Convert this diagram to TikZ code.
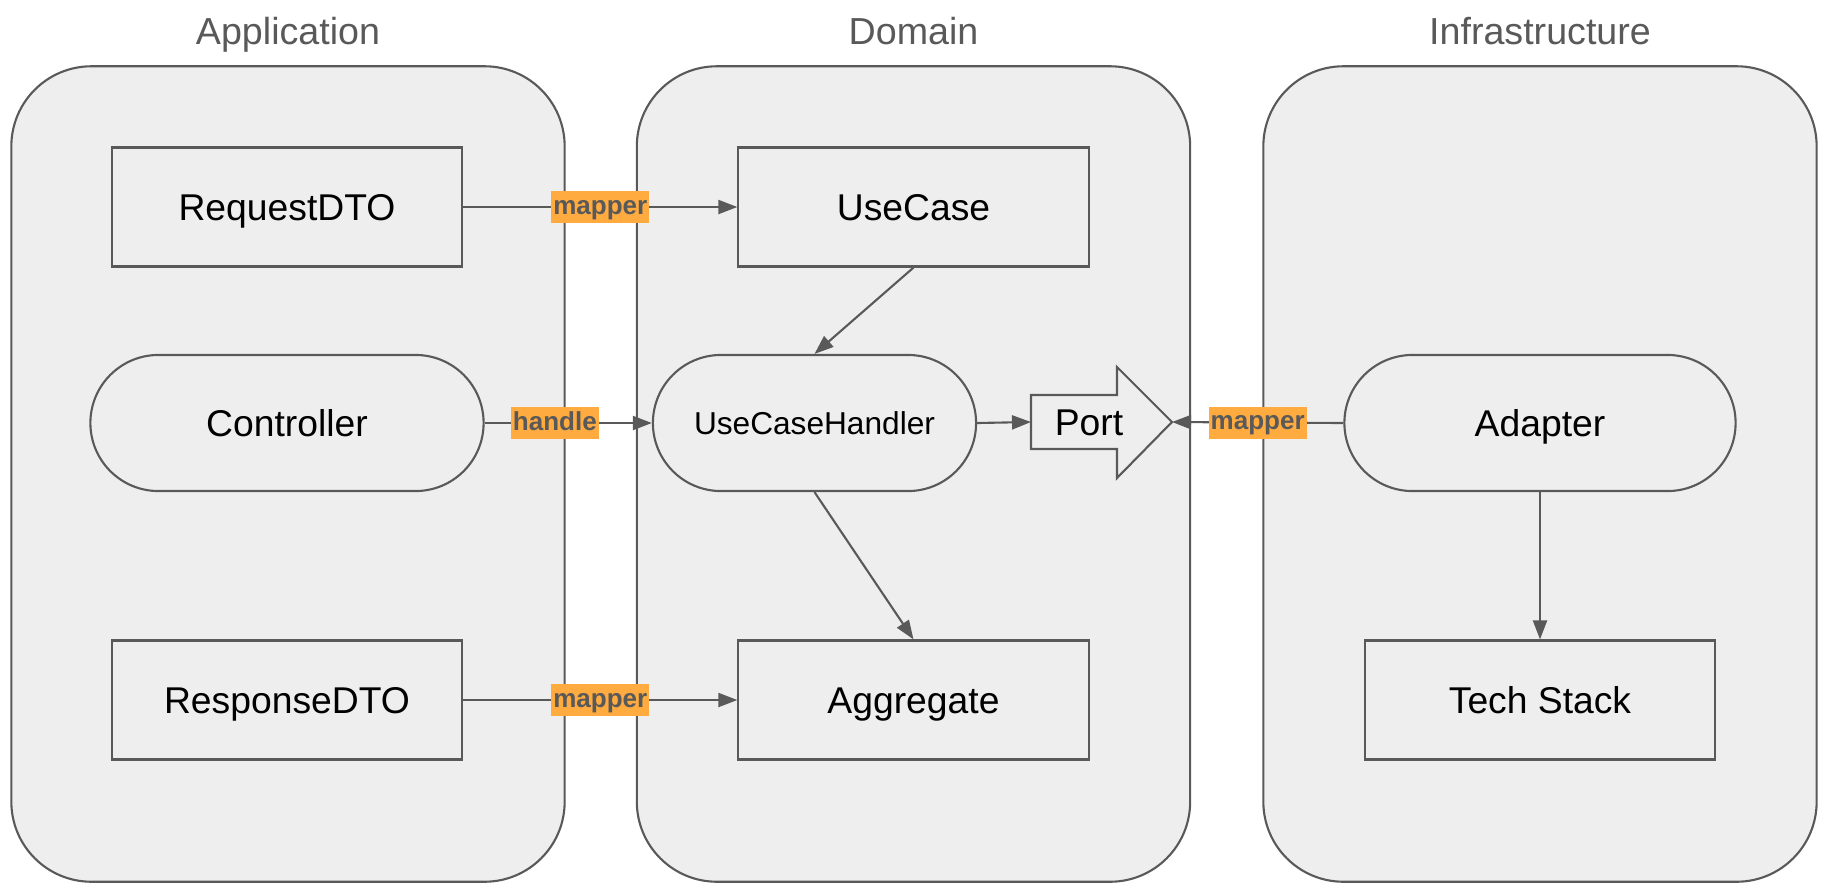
\documentclass[tikz,border=0pt]{standalone}
\usepackage{fontspec}
\setmainfont{Liberation Sans}
\usetikzlibrary{arrows.meta}
\definecolor{panelgray}{HTML}{EEEEEE}
\definecolor{linegray}{HTML}{595959}
\definecolor{tagorange}{HTML}{FFAB40}
\tikzset{panel/.style={draw=linegray,fill=panelgray,line width=0.6pt,rounded corners=0.8cm,minimum width=5.53cm,minimum height=8.15cm}}
\tikzset{layer/.style={text=linegray,font=\fontsize{10.7}{12}\selectfont,text height=0.27cm,text depth=0pt}}
\tikzset{box/.style={draw=linegray,line width=0.6pt,minimum width=3.5cm,minimum height=1.19cm,font=\fontsize{10.6}{12}\selectfont,text height=0.27cm,text depth=0pt}}
\tikzset{pill/.style={draw=linegray,line width=0.6pt,rounded corners=0.68cm,minimum width=3.93cm,minimum height=1.36cm,font=\fontsize{10.6}{12}\selectfont,text height=0.27cm,text depth=0pt}}
\tikzset{edge/.style={draw=linegray,line width=0.6pt,-{Triangle[length=1.9mm,width=1.4mm]}}}
\tikzset{tag/.style={fill=tagorange,text=linegray,font=\fontsize{7.4}{8}\selectfont\bfseries,inner xsep=0.2mm,inner ysep=0.3mm,text height=2mm,text depth=0.6mm}}

\begin{document}
\begin{tikzpicture}[x=0.01cm,y=-0.01cm]
    \useasboundingbox (0,0) rectangle (1826,890);
    \node[panel] (app) at (288,474) {};
    \node[panel] (dom) at (913.5,474) {};
    \node[panel] (infra) at (1540,474) {};
    \node[layer] (appname) at (288,31) {Application};
    \node[layer] (domname) at (913.5,31) {Domain};
    \node[layer] (infraname) at (1540,31) {Infrastructure};
    \node[box] (req) at (287,207) {RequestDTO};
    \node[box] (uc) at (913.5,207) {UseCase};
    \node[pill] (ctrl) at (287,423) {Controller};
    \node[pill,minimum width=3.23cm,font=\fontsize{9}{11}\selectfont,text height=0.23cm] (ush) at (814.5,423) {UseCaseHandler};
    \draw[draw=linegray,fill=panelgray,line width=0.6pt] (1031,395) -- (1117,395) -- (1117,367) -- (1172,422) -- (1117,478) -- (1117,449) -- (1031,449) -- cycle;
    \node[inner sep=0pt,font=\fontsize{10.6}{12}\selectfont] (port) at (1089,423) {Port};
    \coordinate (portin) at (1031,422);
    \coordinate (porttip) at (1172,422);
    \node[pill,minimum width=3.91cm] (adp) at (1540,423) {Adapter};
    \node[box] (resp) at (287,700) {ResponseDTO};
    \node[box] (agg) at (913.5,700) {Aggregate};
    \node[box] (tech) at (1540,700) {Tech Stack};
    \draw[edge] (req) -- node[tag] {mapper} (uc);
    \draw[edge] (ctrl) -- node[tag,pos=0.42] {handle} (ush);
    \draw[edge] (resp) -- node[tag] {mapper} (agg);
    \draw[edge] (uc.south) -- (ush.north);
    \draw[edge] (ush.south) -- (agg.north);
    \draw[edge] (ush.east) -- (portin);
    \draw[edge] (adp.west) -- node[tag] {mapper} (porttip);
    \draw[edge] (adp.south) -- (tech.north);
\end{tikzpicture}
\end{document}
